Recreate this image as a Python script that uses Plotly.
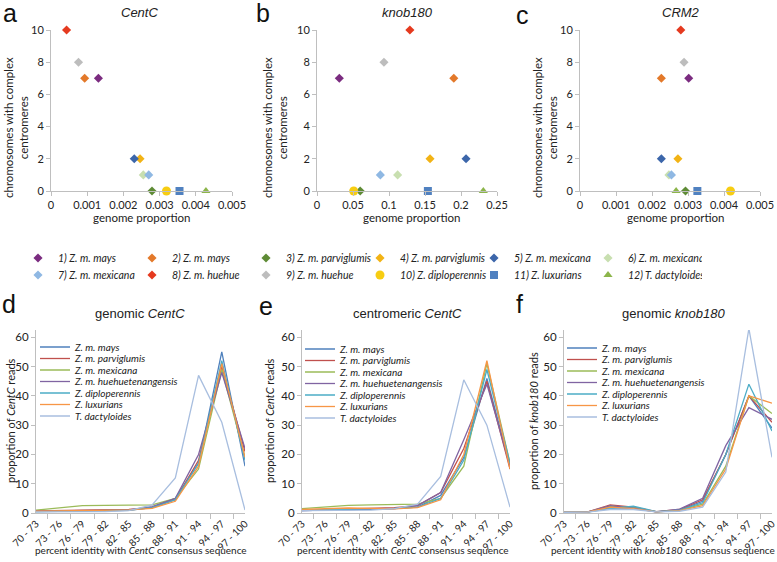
import plotly.graph_objects as go

W, H = 777, 562

# ---------------- data: scatter panels a-c ----------------
species = ["1) Z. m. mays", "2) Z. m. mays", "3) Z. m. parviglumis", "4) Z. m. parviglumis",
           "5) Z. m. mexicana", "6) Z. m. mexicana", "7) Z. m. mexicana", "8) Z. m. huehue",
           "9) Z. m. huehue", "10) Z. diploperennis", "11) Z. luxurians", "12) T. dactyloides"]
complex_chrom = [7, 7, 0, 2, 2, 1, 1, 10, 8, 0, 0, 0]
centc_prop = [0.00131, 0.00093, 0.00279, 0.00246, 0.00230, 0.00255, 0.00270, 0.00043, 0.00076, 0.00319, 0.00355, 0.00428]
knob_prop = [0.031, 0.190, 0.060, 0.157, 0.207, 0.112, 0.088, 0.129, 0.093, 0.051, 0.154, 0.231]
crm2_prop = [0.00302, 0.00226, 0.00293, 0.00272, 0.00226, 0.00247, 0.00254, 0.00280, 0.00289, 0.00418, 0.00326, 0.00267]
species_colors = ["#7B2C80", "#E3792A", "#5E8B35", "#F2B315", "#3C66AA", "#C8DFB0",
                  "#8FB8E3", "#E53A1F", "#BDBDBD", "#F7CD12", "#5081C0", "#8CB54A"]
species_symbols = ["diamond"] * 9 + ["circle", "square", "triangle-up"]
species_sizes = [7] * 9 + [9, 8, 8]

# ---------------- data: line panels d-f ----------------
identity_bins = ["70 - 73", "73 - 76", "76 - 79", "79 - 82", "82 - 85",
                 "85 - 88", "88 - 91", "91 - 94", "94 - 97", "97 - 100"]
taxa = ["Z. m. mays", "Z. m. parviglumis", "Z. m. mexicana", "Z. m. huehuetenangensis",
        "Z. diploperennis", "Z. luxurians", "T. dactyloides"]
taxa_colors = ["#4F81BD", "#C0504D", "#9BBB59", "#8064A2", "#4BACC6", "#F79646", "#A8BEDF"]

genomic_centc = [
    [0.5, 0.5, 0.6, 0.7, 0.9, 1.8, 5.0, 17, 55, 16],
    [0.7, 0.8, 1.0, 1.1, 1.2, 1.8, 4.5, 18, 50, 21],
    [1.0, 1.8, 2.5, 2.6, 2.7, 2.8, 5.0, 15, 49, 19],
    [0.6, 0.7, 0.8, 0.9, 1.1, 2.2, 5.0, 20, 48, 22],
    [0.5, 0.6, 0.7, 0.8, 1.0, 1.8, 4.5, 17, 52, 18],
    [0.6, 0.7, 0.8, 0.9, 1.1, 1.6, 4.0, 16, 51, 19],
    [0.4, 0.4, 0.5, 0.5, 0.8, 2.8, 12, 47, 31, 1],
]
centromeric_centc = [
    [0.8, 1.0, 1.2, 1.3, 1.5, 2.0, 6.0, 19, 46, 16],
    [1.0, 1.2, 1.5, 1.6, 1.8, 2.5, 7.0, 22, 45, 15],
    [1.5, 2.0, 2.6, 2.8, 3.0, 3.0, 5.0, 16, 51, 17],
    [0.8, 1.0, 1.1, 1.2, 1.5, 2.5, 7.0, 25, 44, 16],
    [1.0, 1.1, 1.3, 1.4, 1.6, 2.0, 5.0, 18, 49, 17],
    [1.2, 1.5, 1.7, 1.6, 1.4, 1.8, 4.5, 20, 52, 15],
    [0.8, 0.9, 1.0, 1.0, 1.5, 3.0, 12.5, 45.5, 30, 2],
]
genomic_knob180 = [
    [0.2, 0.3, 1.8, 1.6, 0.4, 1.0, 4.0, 20, 40, 29],
    [0.2, 0.3, 2.8, 2.0, 0.5, 1.2, 4.5, 20, 40, 31],
    [0.2, 0.3, 2.3, 1.8, 0.4, 0.9, 3.0, 16, 40, 34],
    [0.2, 0.3, 2.5, 1.7, 0.4, 1.3, 5.0, 23, 36, 32],
    [0.2, 0.3, 1.5, 2.3, 0.5, 1.0, 3.5, 20, 44, 28],
    [0.2, 0.3, 2.0, 1.5, 0.4, 0.8, 2.5, 15, 40, 37.5],
    [0.2, 0.3, 1.2, 1.2, 0.4, 0.6, 2.0, 14, 63, 19],
]


def fx(px):
    return px / W


def fy(py):
    return 1 - py / H


AXIS_GREY = "#BFBFBF"
SANS = "Lato, Liberation Sans, sans-serif"
TICK_FONT = dict(family=SANS, size=11, color="#222")
TEXT_FONT = "Liberation Sans, Arial, sans-serif"

fig = go.Figure()
layout = dict(
    width=W, height=H, margin=dict(l=0, r=0, t=0, b=0, autoexpand=False),
    paper_bgcolor="white", plot_bgcolor="white", showlegend=True,
)

# ---------- scatter panels ----------
scatter_sets = [centc_prop, knob_prop, crm2_prop]
scatter_xdom = [(51, 232), (317, 497), (580, 760)]
scatter_xrange = [(0, 0.005, 0.001), (0, 0.25, 0.05), (0, 0.005, 0.001)]
for p in range(3):
    xa = "x" if p == 0 else f"x{p + 1}"
    ya = "y" if p == 0 else f"y{p + 1}"
    vals = scatter_sets[p]
    for i in range(12):
        fig.add_trace(go.Scatter(
            x=[vals[i]], y=[complex_chrom[i]], mode="markers",
            name=f"<i>{species[i]}</i>",
            marker=dict(color=species_colors[i], symbol=species_symbols[i], size=species_sizes[i]),
            xaxis=xa, yaxis=ya, cliponaxis=False,
            showlegend=(p == 0), legend=("legend" if i < 6 else "legend2"),
            legendgroup=f"s{i}",
        ))
    lo, hi, dt = scatter_xrange[p]
    xk = "xaxis" if p == 0 else f"xaxis{p + 1}"
    yk = "yaxis" if p == 0 else f"yaxis{p + 1}"
    layout[xk] = dict(domain=[fx(scatter_xdom[p][0]), fx(scatter_xdom[p][1])], range=[lo, hi],
                      dtick=dt, tick0=0, showgrid=False, zeroline=False, showline=True,
                      linecolor=AXIS_GREY, ticks="outside", ticklen=4, tickcolor=AXIS_GREY,
                      tickfont=TICK_FONT, anchor=ya)
    layout[yk] = dict(domain=[fy(191), fy(30)], range=[0, 10], dtick=2, showgrid=False,
                      zeroline=False, showline=True, linecolor=AXIS_GREY, ticks="outside",
                      ticklen=4, tickcolor=AXIS_GREY, tickfont=TICK_FONT, anchor=xa)

# ---------- line panels ----------
line_sets = [genomic_centc, centromeric_centc, genomic_knob180]
line_xdom = [(36, 245), (302, 510), (564, 772)]
leg_x = [35, 300, 562]
leg_y0 = [347, 349, 348]
for p in range(3):
    n = p + 4
    xa, ya = f"x{n}", f"y{n}"
    for i in range(7):
        lg = f"legend{3 + p * 7 + i}"
        fig.add_trace(go.Scatter(
            x=identity_bins, y=line_sets[p][i], mode="lines",
            name=f"<i>{taxa[i]}</i>", line=dict(color=taxa_colors[i], width=1.3),
            xaxis=xa, yaxis=ya, legend=lg, showlegend=True,
        ))
        layout[lg] = dict(x=fx(leg_x[p]), xanchor="left", y=fy(leg_y0[p] + i * 11.5),
                          yanchor="middle", bgcolor="rgba(0,0,0,0)", borderwidth=0,
                          font=dict(family=SANS, size=10, color="#222"))
    layout[f"xaxis{n}"] = dict(domain=[fx(line_xdom[p][0]), fx(line_xdom[p][1])], type="category",
                               tickson="boundaries", ticks="outside", ticklen=5, tickcolor=AXIS_GREY,
                               showline=True, linecolor=AXIS_GREY, showgrid=False, tickangle=-45,
                               tickfont=dict(family=SANS, size=10, color="#222"),
                               anchor=ya)
    layout[f"yaxis{n}"] = dict(domain=[fy(513), fy(330)], range=[0, 62.5], tickvals=[0, 10, 20, 30, 40, 50, 60],
                               showgrid=False, zeroline=False, showline=True, linecolor=AXIS_GREY,
                               ticks="outside", ticklen=4, tickcolor=AXIS_GREY,
                               tickfont=dict(family=SANS, size=11.5, color="#222"),
                               anchor=xa)

# top legends (two rows of six)
for key, yy in (("legend", 258), ("legend2", 275)):
    layout[key] = dict(orientation="h", x=fx(18), xanchor="left", y=fy(yy), yanchor="middle",
                       entrywidth=69, entrywidthmode="pixels", bgcolor="rgba(0,0,0,0)",
                       font=dict(family=SANS, size=10.5, color="#222"), tracegroupgap=0)

# ---------- annotations ----------
ann = []


def text(x, y, s, size, angle=0, family=TEXT_FONT, color="#222"):
    ann.append(dict(xref="paper", yref="paper", x=fx(x), y=fy(y), text=s, showarrow=False,
                    xanchor="center", yanchor="middle", textangle=angle,
                    font=dict(family=family, size=size, color=color)))


# panel letters
for s, x, y in (("a", 10, 13), ("b", 263, 13), ("c", 522, 15), ("d", 9, 304), ("e", 266, 306), ("f", 519, 304)):
    text(x, y, s, 25, color="#111")

# scatter titles
text(139, 12, "<i>CentC</i>", 13)
text(407, 12, "<i>knob180</i>", 13)
text(681, 12, "<i>CRM2</i>", 13)
# scatter axis titles
for cx in (141, 411, 675):
    text(cx, 218, "genome proportion", 11.5, family=SANS)
for cx in (16, 275, 545):
    text(cx, 128, "chromosomes with complex<br>centromeres", 11.5, angle=-90, family=SANS)

# line titles
text(140, 313, "genomic <i>CentC</i>", 13)
text(408, 313, "centromeric <i>CentC</i>", 13)
text(673, 313, "genomic <i>knob180</i>", 13)
# line axis titles
text(141, 550, "percent identity with <i>CentC</i> consensus sequence", 10, family=SANS)
text(403, 550, "percent identity with <i>CentC</i> consensus sequence", 10, family=SANS)
text(663, 550, "percent identity with <i>knob180</i> consensus sequence", 10, family=SANS)
text(10, 421, "proportion of <i>CentC</i> reads", 11, angle=-90, family=SANS)
text(269, 421, "proportion of <i>CentC</i> reads", 11, angle=-90, family=SANS)
text(533, 421, "proportion of <i>knob180</i> reads", 11, angle=-90, family=SANS)

layout["annotations"] = ann
fig.update_layout(**layout)
# remove the browser's default 8px page margin so the figure sits at the window origin
fig.write_html("out.html", config={"displayModeBar": False},
               post_script="document.body.style.margin='0';")
